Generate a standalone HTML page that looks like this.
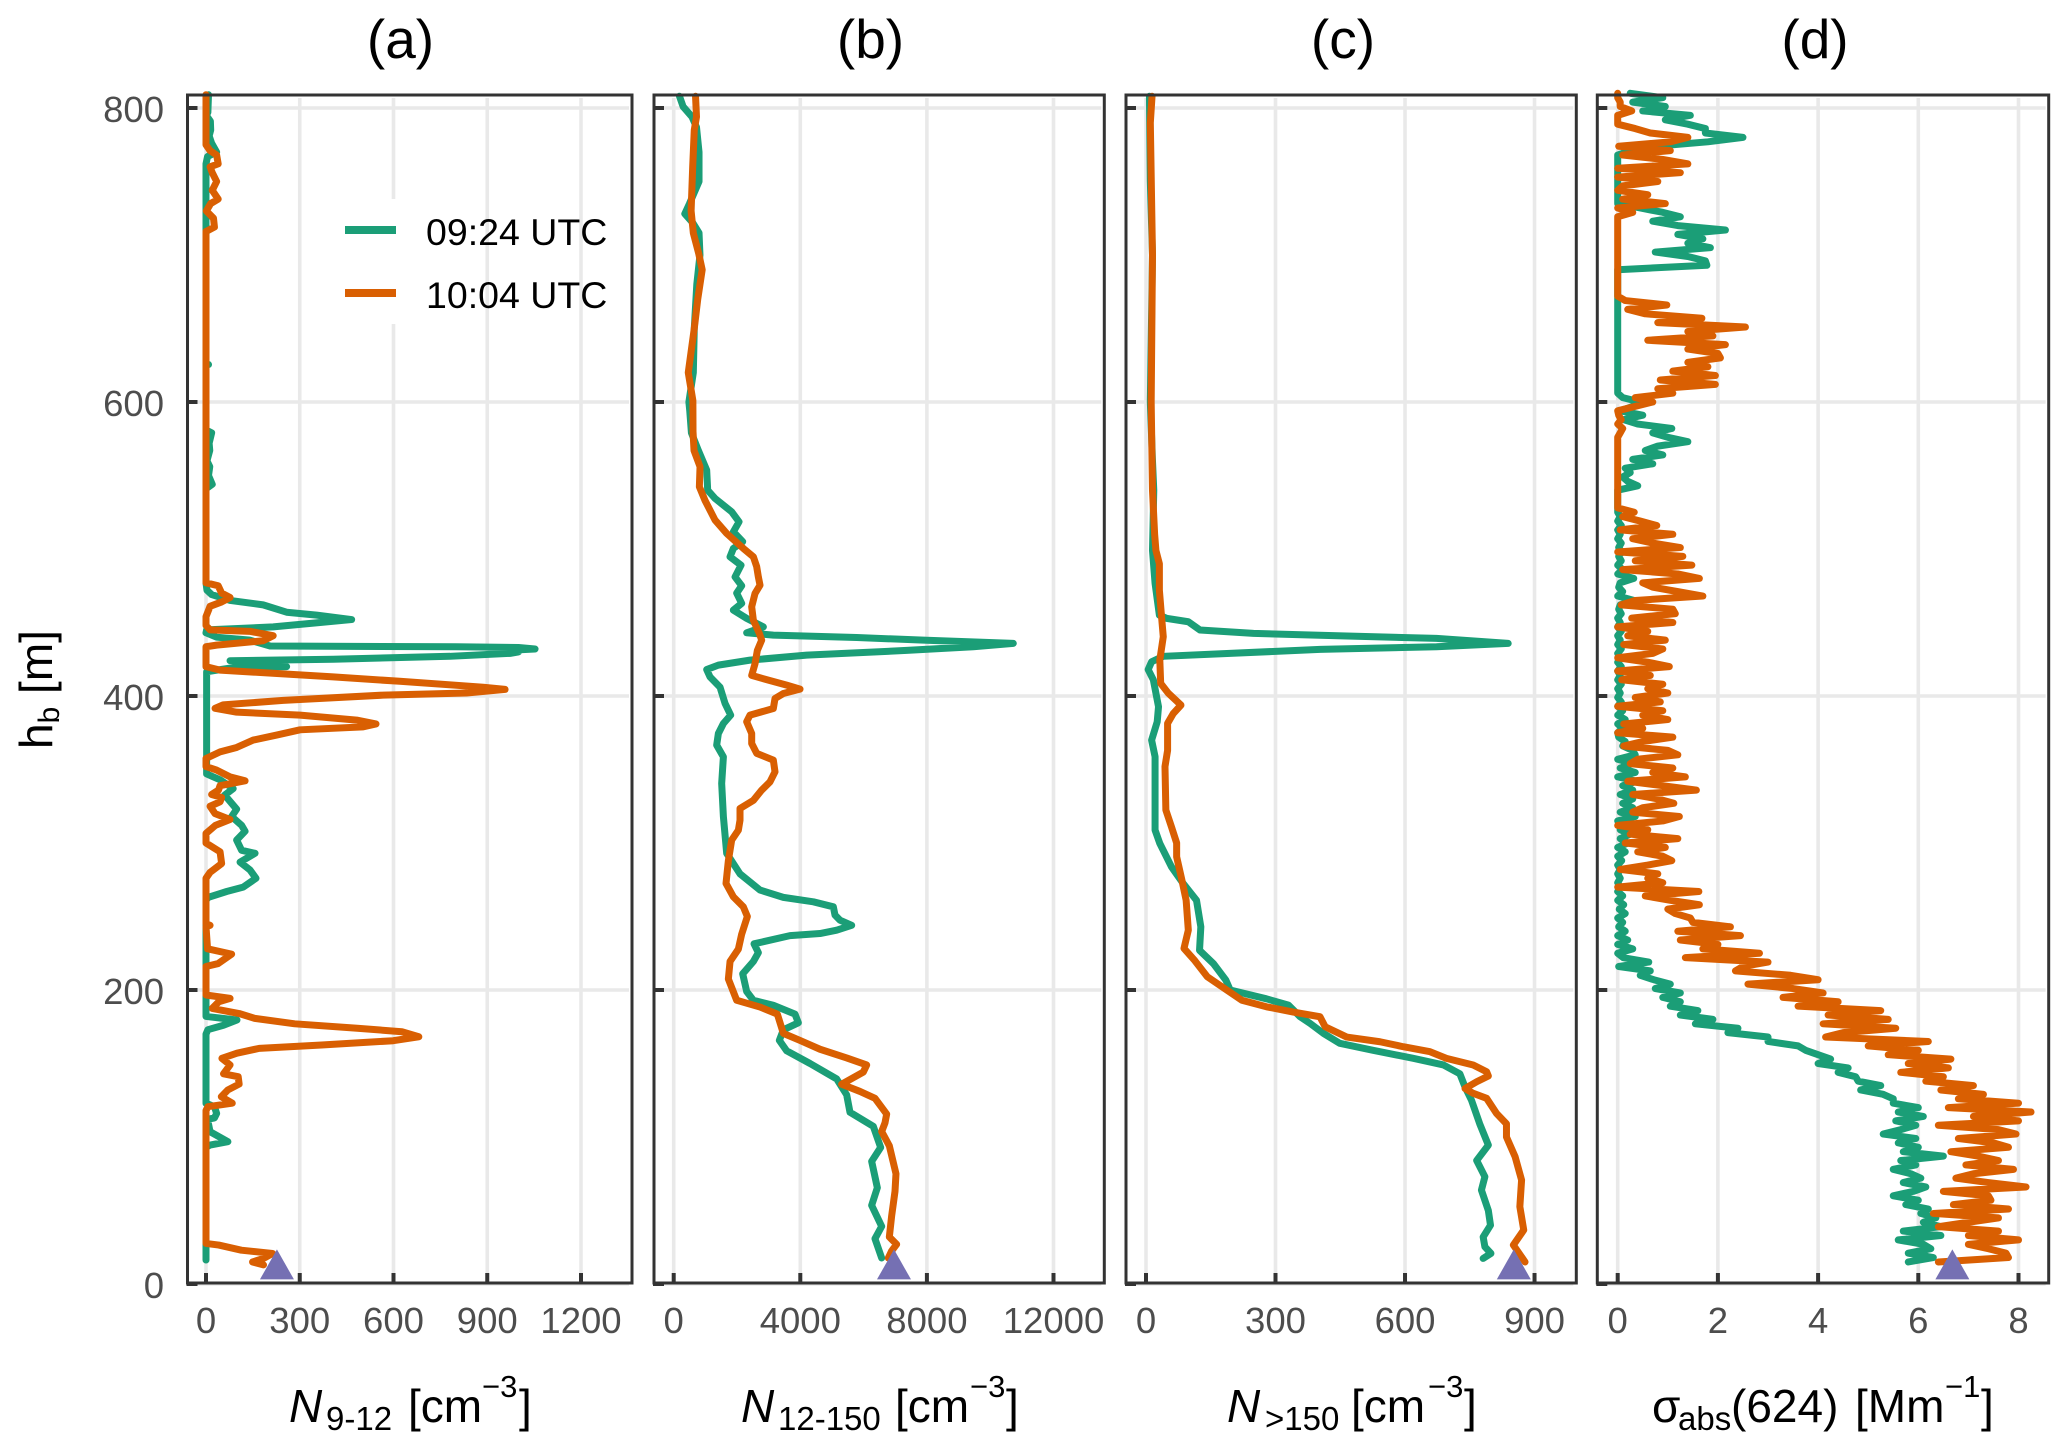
<!DOCTYPE html>
<html lang="en">
<head>
<meta charset="utf-8">
<title>Vertical aerosol profiles</title>
<style>
html,body{margin:0;padding:0;background:#fff;}
svg{display:block;font-family:"Liberation Sans",sans-serif;}
</style>
</head>
<body>
<svg id="chart" xmlns="http://www.w3.org/2000/svg" width="2067" height="1450" viewBox="0 0 2067 1450">
<rect x="0" y="0" width="2067" height="1450" fill="#fff"/>
<g id="plots"></g>

<g font-size="55" fill="#000" text-anchor="middle">
<text x="400.5" y="58">(a)</text>
<text x="870.5" y="58">(b)</text>
<text x="1343" y="58">(c)</text>
<text x="1815" y="58">(d)</text>
</g>

<text transform="translate(52,749) rotate(-90)" font-size="46" fill="#000">h<tspan font-size="30" dy="7">b</tspan><tspan dy="-7"> [m]</tspan></text>

<g>
<rect x="338" y="199" width="64" height="125" fill="#fff"/>
<line x1="345" x2="396" y1="230" y2="230" stroke="#1b9e77" stroke-width="8"/>
<line x1="345" x2="396" y1="293" y2="293" stroke="#d95f02" stroke-width="8"/>
<text x="426" y="245" font-size="37.5" fill="#000">09:24 UTC</text>
<text x="426" y="308" font-size="37.5" fill="#000">10:04 UTC</text>
</g>

<text fill="#000" font-size="46"><tspan x="289" y="1422" font-style="italic">N</tspan><tspan x="326" y="1430" font-size="33">9-12</tspan><tspan x="408" y="1422">[cm</tspan><tspan x="482" y="1397" font-size="31">−3</tspan><tspan x="519" y="1422">]</tspan></text>
<text fill="#000" font-size="46"><tspan x="741" y="1422" font-style="italic">N</tspan><tspan x="778" y="1430" font-size="33">12-150</tspan><tspan x="895" y="1422">[cm</tspan><tspan x="970" y="1397" font-size="31">−3</tspan><tspan x="1006" y="1422">]</tspan></text>
<text fill="#000" font-size="46"><tspan x="1227" y="1422" font-style="italic">N</tspan><tspan x="1265" y="1430" font-size="33">&gt;150</tspan><tspan x="1351" y="1422">[cm</tspan><tspan x="1428" y="1397" font-size="31">−3</tspan><tspan x="1464" y="1422">]</tspan></text>
<text fill="#000" font-size="46"><tspan x="1652" y="1422">σ</tspan><tspan x="1678" y="1430" font-size="33">abs</tspan><tspan x="1731" y="1422">(624)</tspan><tspan x="1855" y="1422">[Mm</tspan><tspan x="1945" y="1397" font-size="31">−1</tspan><tspan x="1981" y="1422">]</tspan></text>
</svg>

<script>
const heightTicks = [0, 200, 400, 600, 800];
const xTicksA = [0, 300, 600, 900, 1200];
const xTicksB = [0, 4000, 8000, 12000];
const xTicksC = [0, 300, 600, 900];
const xTicksD = [0, 2, 4, 6, 8];

const markerHeights = [14, 14, 14, 14];
const markerValues = [227, 6960, 852, 6.68];

/* Panel (a) N9-12 */
const a0924Heights = [809,797,795,791,785,781,776,770,767,762,716,626,625.5,625,581,579,572,567,560,556,550,544,541,477,472,469,465,462,457,455,452,450,447,445,443,440,438,434,433.5,433,432,431,430,429,427,425,424,422,420,419,416.5,347,343,337,332.6,323,318,312,308,302,295,293,287,281.6,276,270,267,263,261,182,179.6,176,173,170,123,120.6,116,113,112,103.6,96.8,94.5,93,16.3];
const a0924Values = [8,6,1,14,15,10,18,34,5,0,0,0,8,0,0,18,10,12,3,12,8,20,0,0,3,18,77,183,258,354,466,365,215,2,0,34,140,205,800,1000,1053,960,1000,973,781,407,77,140,258,77,2,2,45,87,60,98,82,114,125,98,114,157,109,141,160,119,66,7,0,0,99,56,6,0,0,27,34,27,5,13,70,13,0,0];
const a1004Heights = [809,775,771,768,762,760,756,750,744,738,735,730,725,719,716,477,475,470,467,464,461,454,448,445,444,441,437.6,434.6,433.5,420,417.6,413,410,406,404.5,402,400.6,397,394,391.6,389,387,383.6,381,379,377,373.4,370,365,362,357.5,352,349.6,345,342.3,339,336,333,331,328,325,320,316,312,306.5,300,294,286,280,276,245,244,243,228,224.4,218,216,196.6,194.3,192,187.5,184,180.7,177,174,171.6,168.2,165.5,162.6,160.3,157,153.5,149,143,141,136,132,127.4,123,120.6,118,27.6,26.5,23,20.8,17.4,15,13];
const a1004Values = [0,0,13,34,39,13,20,34,20,39,15,1,24,27,0,0,39,50,77,50,13,0,0,13,140,215,183,34,0,0,45,407,620,887,957,834,567,247,55,29,98,301,482,544,503,301,226,151,98,45,0,0,34,77,125,45,40,18,50,45,13,29,77,30,0,0,45,50,13,0,0,13,0,5,82,39,0,0,77,41,20,106,156,284,484,627,681,599,370,170,99,51,77,56,103,106,70,49,84,6,0,0,41,113,213,184,149,184];

/* Panel (b) N12-150 */
const b0924Heights = [808,801,794,787,770,750,735,728,722,715,700,680,650,620,600,594,579,567,553.7,540,534.4,525.3,518.5,511.7,505,500.4,494.7,489,481,475,470,463,458.4,452.8,447,443,441.4,439.8,438,435.8,433.5,431,427.8,424.4,421,418,413,406,395,387,381.3,374.5,366.6,358.6,340.5,318,293,279,268,263,260,256.6,251,247.5,244,240.7,238.4,237,231.4,225.4,219.4,211,199,193,189.6,183.6,177.7,172.9,165.7,158.6,150,139.5,128.7,116.8,107.2,92.9,83.4,65.5,53.5,39.2,30.8,17.7];
const b0924Values = [183,296,578,720,800,800,500,350,600,800,830,730,650,620,480,507,560,780,1042,1074,1306,1832,2064,1885,2180,1885,1780,2127,1938,2148,1990,2148,1885,2306,2833,2306,3148,5781,7887,10730,9466,7360,4200,2411,1411,1042,1148,1464,1622,1800,1570,1411,1358,1570,1516,1570,1674,2095,2727,3464,4412,5044,5096,5254,5623,5149,4623,3675,2538,2675,2517,2180,2306,2517,3148,3833,3938,3464,3338,3570,4307,5149,5465,5570,6308,6539,6255,6434,6255,6571,6360,6571];
const b1004Heights = [808,794,785,760,730,715,701,690,670,650,620,601,580,567,556,542.3,533,519.7,510.6,500.4,494.7,488,481,475.4,469.8,460.7,451.6,442.6,438,431,422,414,410.8,407.4,404.7,401.7,398.3,391.5,387,382.5,374.5,367.7,361,356.4,348.4,341.6,336,329,323.5,315.5,308.7,302,288,272.5,263.4,256.6,250,238,227.8,219.4,207.5,193,188.4,183.6,170.5,165.7,159.7,153.8,149,144.2,135.9,131,126.3,115.6,109.6,103.7,94,75,63,46.4,32,27,22.5,17.7];
const b1004Values = [690,720,650,600,550,620,790,900,760,650,460,606,610,642,832,811,990,1306,1674,2200,2517,2622,2675,2727,2570,2464,2517,2706,2780,2643,2570,2464,2990,3570,3991,3464,3201,3148,2411,2306,2464,2464,2622,3148,3201,3043,2780,2517,2095,2095,2043,1832,1727,1653,1885,2200,2327,2148,2043,1780,1727,1990,2727,3275,3464,3991,4623,5465,6097,5992,5307,5886,6360,6729,6676,6571,6813,7023,6992,6887,6813,7044,6887,6781];

/* Panel (c) N>150 */
const c0924Heights = [808,750,700,600,560,540,499,476.6,455,452.8,450.5,444.9,442.6,440.8,439.2,435.8,433.5,431.7,427,423.3,418,411,392.7,382.5,370,358.7,308.8,299.7,283.8,272.5,261,243,227,218,206.7,200,194,189.7,181.8,177.3,170.5,163.7,159,153.5,149,143,134,125,109,94.5,84,73,63.9,50,40,32,25.3,20.8,17.4];
const c0924Values = [8,10,15,10,15,18,15,21,31,48,98,125,249,465,673,839,673,403,40,13,5,17,29,26,13,21,21,32,59,86,117,127,124,156,185,195,279,330,357,380,411,449,526,619,689,727,739,754,773,793,766,785,777,793,798,781,785,799,781];
const c1004Heights = [808,790,700,600,540,510,499,490,472,454,440.3,424.5,408.6,401.8,393.8,388,381.4,363,352,322.4,311,300,290.6,275,261,240.7,228.3,220,209,200,193,188.6,185,181.8,175,168,164.8,161.4,158,153.5,149,144.4,141.5,137.6,133,129.7,126.3,116,109,100,86.6,70.7,52.6,36.7,26.5,15];
const c1004Values = [14,10,15,12,15,20,23,31,31,36,40,32,34,52,81,63,50,50,44,46,59,71,71,83,93,98,88,113,142,187,222,279,341,403,415,465,542,596,658,696,758,789,793,766,739,758,789,812,835,835,855,870,866,875,851,878];

/* Panel (d) sigma_abs: both flights sampled on the same heights */
const dHeights = [
810,807,804,801,798,795,792,789,786,783,
780,777,774,771,768,765,762,759,756,753,
750,747,744,741,738,735,732,729,726,723,
720,717,714,711,708,705,702,699,696,693,
690,687,684,681,678,675,672,669,666,663,
660,657,654,651,648,645,642,639,636,633,
630,627,624,621,618,615,612,609,606,603,
600,597,594,591,588,585,582,579,576,573,
570,567,564,561,558,555,552,549,546,543,
540,537,534,531,528,525,522,519,516,513,
510,507,504,501,498,495,492,489,486,483,
480,477,474,471,468,465,462,459,456,453,
450,447,444,441,438,435,432,429,426,423,
420,417,414,411,408,405,402,399,396,393,
390,387,384,381,378,375,372,369,366,363,
360,357,354,351,348,345,342,339,336,333,
330,327,324,321,318,315,312,309,306,303,
300,297,294,291,288,285,282,279,276,273,
270,267,264,261,258,255,252,249,246,243,
240,237,234,231,228,225,222,219,216,213,
210,207,204,201,198,195,192,189,186,183,
180,177,174,171,168,165,162,159,156,153,
150,147,144,141,138,135,132,129,126,123,
120,117,114,111,108,105,102,99,96,93,
90,87,84,81,78,75,72,69,66,63,
60,57,54,51,48,45,42,39,36,33,
30,27,24,21,18,15];
const d0924Values = [
.25,.9,.3,.95,.5,1.45,.95,1.4,1.75,1.75,
2.5,1.8,.75,.25,0,0,0,0,0,0,
0,0,0,0,0,0,.45,.9,1.25,.7,
1.2,2.15,1.2,1.7,1.4,1.85,.75,1.4,1.75,1.78,
0,0,0,0,0,0,0,0,0,0,
0,0,0,0,0,0,0,0,0,0,
0,0,0,0,0,0,0,0,0,.1,
.45,.3,.05,.5,.12,.4,1.08,.7,1,1.4,
.8,.55,.9,.3,.7,.15,.25,.1,.2,.4,
0,0,0,0,0,0,.05,0,.07,0,
.05,0,.07,.02,.08,.02,.07,0,.1,0,
.32,.05,.02,.1,0,.33,.05,.02,.07,0,
.05,0,.07,0,.05,0,.07,0,.05,0,
.07,0,.05,0,.07,0,.05,0,.07,0,
.1,0,.15,0,.1,0,.02,.15,.1,.3,
.35,0,.3,.05,.35,0,.38,.1,.3,.05,
.3,.1,.3,.05,.35,0,.3,.05,.25,.05,
.2,0,.15,0,.08,0,.05,0,.05,0,
.05,0,.1,0,.12,.03,.15,0,.1,.02,
.15,0,.2,0,.3,0,.11,.62,.02,.65,
.45,.72,1.05,.75,1.25,.9,1.25,1.05,1.6,1.25,
1.9,1.55,2.4,2.2,3,3,3.6,3.75,4,4.25,
4,4.6,4.4,4.75,4.8,5.25,4.85,5.3,5.5,5.5,
6,5.6,6.1,5.55,5.95,5.65,5.3,5.95,5.6,6,
5.7,6.5,5.65,5.95,5.5,5.85,6.05,5.7,6.15,5.9,
5.5,6,5.75,6.2,6.05,6.35,6.1,6.45,5.7,6.45,
5.6,6.1,6.25,5.8,6.3,5.8];
const d1004Values = [
0,0,.05,.05,.28,0,0,0,.35,.65,
1.4,1.05,.02,1.05,.1,.9,1.4,0,1.25,0,
.8,.1,0,.6,.1,.95,0,.3,0,0,
0,0,0,0,0,0,0,0,0,0,
0,0,0,0,0,0,0,.15,.98,.2,
.55,1.68,.8,2.55,1.4,1.9,.6,2.15,1.4,2,
2.05,1.4,1.8,1.1,1.95,.85,1.95,.8,1.1,.35,
.7,.35,0,.02,.07,0,.1,.05,0,0,
0,0,0,0,0,0,0,0,0,0,
0,0,0,0,0,.33,.1,.45,.78,.05,
1.1,.3,.7,1.25,0,1.3,.35,1.48,.1,1.2,
1.63,.5,.7,1.2,1.7,.35,.07,1.1,1.15,.28,
1.1,0,.6,.2,.95,.12,.9,.7,0,.6,
1.03,0,.65,.08,.9,.6,1,.35,.85,0,
.9,.5,1,.12,.5,0,1.1,.5,.12,1,
1.2,.4,.25,1.1,.7,1.35,.2,.9,1.57,.3,
.8,1.12,.5,.3,1.23,.9,0,.6,.25,1.2,
.15,.95,.4,.9,1.08,.6,.05,.8,.6,.9,
0,1.62,.55,1.05,1.63,1,1.15,1.45,1.5,2.25,
1.2,2.45,1.25,2,1.7,2.83,1.35,3,2.5,2.35,
3.45,4,2.6,3.5,4.1,3.3,4.4,3.6,5.25,4.2,
5.4,4.1,5.55,4.5,4.15,6.2,5,6,5.4,6.65,
5.8,6.6,5.65,6.5,6.15,7.1,6.45,7.3,6.8,8,
6.6,8.25,7.1,8,6.4,7.6,7.95,6.8,7.5,7.8,
6.65,7.2,7.6,6.95,7.9,7.1,6.75,7.4,8.15,6.5,
7.4,7.45,6.7,7.8,6.3,7.6,7,6.4,7.6,7,
8,7,7.4,7.75,7.8,6.4];

const SVG_NS = 'http://www.w3.org/2000/svg';
const plots = document.getElementById('plots');
const PANEL_TOP = 95;
const PANEL_BOTTOM = 1283;

function yScale(h) { return 1284 - h * 1.47; }

function make(tag, attrs, parent) {
  const el = document.createElementNS(SVG_NS, tag);
  for (const key in attrs) el.setAttribute(key, attrs[key]);
  parent.appendChild(el);
  return el;
}

function profilePath(heights, values, xScale) {
  const n = Math.min(heights.length, values.length);
  let d = '';
  for (let i = 0; i < n; i++) {
    d += (i ? 'L' : 'M') + xScale(values[i]).toFixed(2) + ' ' + yScale(heights[i]).toFixed(2);
  }
  return d;
}

const panels = [
  { id: 'a', left: 187.5, right: 632, origin: 206, perUnit: 0.3125, ticks: xTicksA, series: [[a0924Heights, a0924Values], [a1004Heights, a1004Values]], marker: 0 },
  { id: 'b', left: 654, right: 1104.3, origin: 673.7, perUnit: 0.03165, ticks: xTicksB, series: [[b0924Heights, b0924Values], [b1004Heights, b1004Values]], marker: 1 },
  { id: 'c', left: 1126, right: 1576.3, origin: 1146, perUnit: 0.4317, ticks: xTicksC, series: [[c0924Heights, c0924Values], [c1004Heights, c1004Values]], marker: 2 },
  { id: 'd', left: 1597.3, right: 2048.7, origin: 1617.7, perUnit: 50.1, ticks: xTicksD, series: [[dHeights, d0924Values], [dHeights, d1004Values]], marker: 3 }
];
const seriesColors = ['#1b9e77', '#d95f02'];
const seriesTags = ['0924', '1004'];

panels.forEach(function (p, panelIndex) {
  const xScale = function (v) { return p.origin + v * p.perUnit; };
  const g = make('g', {}, plots);
  
  

  heightTicks.forEach(function (h) {
    const grid = make('line', { x1: p.left + 10, x2: p.right - 3, y1: yScale(h), y2: yScale(h), stroke: '#e9e9e9', 'stroke-width': 3.6 }, g);
    
    
  });
  p.ticks.forEach(function (t) {
    const grid = make('line', { x1: xScale(t), x2: xScale(t), y1: 98, y2: 1273, stroke: '#e9e9e9', 'stroke-width': 3.6 }, g);
    
    
  });

  p.series.forEach(function (s, i) {
    const line = make('path', { d: profilePath(s[0], s[1], xScale), fill: 'none', stroke: seriesColors[i], 'stroke-width': 7, 'stroke-linejoin': 'round', 'stroke-linecap': 'round' }, g);
    
    
  });

  const mx = xScale(markerValues[p.marker]);
  const my = yScale(markerHeights[p.marker]);
  const marker = make('polygon', { points: mx + ',' + (my - 14) + ' ' + (mx - 17) + ',' + (my + 16) + ' ' + (mx + 17) + ',' + (my + 16), fill: '#7570b3' }, g);
  
  

  heightTicks.forEach(function (h) {
    const tick = make('line', { x1: p.left - 1, x2: p.left + 10, y1: yScale(h), y2: yScale(h), stroke: '#333', 'stroke-width': 4 }, g);
    
    
    if (panelIndex === 0) {
      const label = make('text', { x: 164, y: yScale(h) + 14, 'font-size': 36.5, fill: '#4d4d4d', 'text-anchor': 'end' }, g);
      label.textContent = String(h);
      
      
    }
  });
  p.ticks.forEach(function (t) {
    const tick = make('line', { x1: xScale(t), x2: xScale(t), y1: 1273, y2: 1283, stroke: '#333', 'stroke-width': 4 }, g);
    
    
    const label = make('text', { x: xScale(t), y: 1333, 'font-size': 36.5, fill: '#4d4d4d', 'text-anchor': 'middle' }, g);
    label.textContent = String(t);
    
    
  });

  const frame = make('rect', { x: p.left, y: PANEL_TOP, width: p.right - p.left, height: PANEL_BOTTOM - PANEL_TOP, fill: 'none', stroke: '#333', 'stroke-width': 3 }, g);
  
  
});
</script>
</body>
</html>
